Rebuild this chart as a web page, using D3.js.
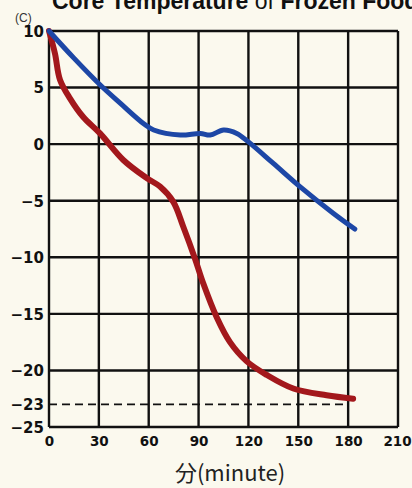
<!DOCTYPE html>
<html><head><meta charset="utf-8">
<script src="https://cdn.jsdelivr.net/npm/d3@7/dist/d3.min.js"></script>
<style>
html,body{margin:0;padding:0;background:#fbf9ee;}
svg{display:block;}
</style></head>
<body>
<svg id="c" width="412" height="488"></svg>
<script>
const xTicks = [0, 30, 60, 90, 120, 150, 180, 210];
const yGrid = [10, 5, 0, -5, -10, -15, -20, -25];
const yLabels = [10, 5, 0, -5, -10, -15, -20, -23, -25];
const blueTime = [0, 15, 31, 43, 57, 63, 79, 91, 97, 105, 113, 120, 135, 151, 171, 184];
const blueTemp = [10, 7.6, 5.2, 3.6, 1.8, 1.25, 0.8, 0.95, 0.8, 1.25, 0.95, 0.2, -1.7, -3.75, -6.1, -7.5];
const redTime = [0, 3.6, 6.6, 12.6, 20.6, 30.7, 44.7, 58.8, 66.8, 74.8, 80.8, 87.8, 92.8, 100.9, 108.9, 119, 131, 147, 167, 183];
const redTemp = [10, 8.0, 5.7, 4.05, 2.4, 0.95, -1.4, -3.0, -3.75, -5.1, -7.3, -10.1, -12.3, -15.3, -17.5, -19.2, -20.4, -21.6, -22.2, -22.5];
const refLine = {value: -23, from: 0, to: 180};

const svg = d3.select("#c");
const x = d3.scaleLinear().domain([0, 210]).range([49, 398]);
const y = d3.scaleLinear().domain([-25, 10]).range([427, 31]);
const SANS = "'DejaVu Sans', Verdana, sans-serif";

// title (clipped at top, as in the reference)
const title = svg.append("text").attr("x", 52).attr("y", 9)
  .attr("font-family", "Arial, 'Liberation Sans', sans-serif").attr("font-size", 23)
  .attr("font-weight", "bold").attr("fill", "#111");
title.append("tspan").text("Core Temperature ");
title.append("tspan").attr("font-weight", "normal").text("of ");
title.append("tspan").text("Frozen Food");

svg.append("text").attr("x", 15).attr("y", 22).attr("font-family", "Arial, 'Liberation Sans', sans-serif")
  .attr("font-size", 12).attr("fill", "#333").text("(C)");

// grid
const g = svg.append("g");
g.selectAll("line.v").data(xTicks).join("line").attr("class", "v")
  .attr("x1", d => x(d)).attr("x2", d => x(d)).attr("y1", y(10)).attr("y2", y(-25))
  .attr("stroke", "#111").attr("stroke-width", 2.4);
g.selectAll("line.h").data(yGrid).join("line").attr("class", "h")
  .attr("x1", x(0)).attr("x2", x(210)).attr("y1", d => y(d)).attr("y2", d => y(d))
  .attr("stroke", "#111").attr("stroke-width", 2.4);

// dashed -23 line
g.append("line").attr("x1", x(refLine.from)).attr("x2", x(refLine.to))
  .attr("y1", y(refLine.value)).attr("y2", y(refLine.value))
  .attr("stroke", "#111").attr("stroke-width", 1.8).attr("stroke-dasharray", "8,5");

// axes labels
const yAxis = d3.axisLeft(y).tickValues(yLabels).tickSize(0).tickPadding(0)
  .tickFormat(d => d < 0 ? "\u2212" + Math.abs(d) : d);
const ya = svg.append("g").attr("transform", "translate(44,0)").call(yAxis);
ya.select(".domain").remove();
ya.selectAll("text").attr("font-family", SANS).attr("font-size", 15)
  .attr("font-weight", "900").attr("fill", "#111").attr("dy", "0.36em");

const xAxis = d3.axisBottom(x).tickValues(xTicks).tickSize(0).tickPadding(0);
const xa = svg.append("g").attr("transform", "translate(0,436)").call(xAxis);
xa.select(".domain").remove();
xa.selectAll("text").attr("font-family", SANS).attr("font-size", 13.5)
  .attr("font-weight", "900").attr("fill", "#111").attr("dy", "0.71em");
xa.selectAll(".tick").filter(d => d === 210).select("text").attr("dx", -1);

svg.append("text").attr("x", 230).attr("y", 481).attr("text-anchor", "middle")
  .attr("font-family", "'Noto Sans CJK JP', 'DejaVu Sans', sans-serif").attr("font-size", 22)
  .attr("fill", "#222").text("分(minute)");

// lines
const line = d3.line().x(d => x(d[0])).y(d => y(d[1])).curve(d3.curveCatmullRom.alpha(0.5));
const blue = blueTime.map((t, i) => [t, blueTemp[i]]);
const red = redTime.map((t, i) => [t, redTemp[i]]);
svg.append("path").datum(red).attr("d", line).attr("fill", "none")
  .attr("stroke", "#a3181c").attr("stroke-width", 6).attr("stroke-linecap", "round").attr("stroke-linejoin", "round");
svg.append("path").datum(blue).attr("d", line).attr("fill", "none")
  .attr("stroke", "#1d47a6").attr("stroke-width", 5).attr("stroke-linecap", "round").attr("stroke-linejoin", "round");
</script>
</body></html>
